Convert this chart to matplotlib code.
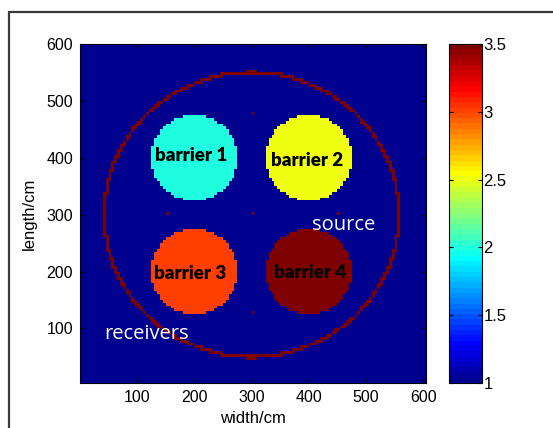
import matplotlib
matplotlib.use('Agg')
import matplotlib.pyplot as plt
import numpy as np
from matplotlib.colors import ListedColormap
from matplotlib.patches import Rectangle

# barriers: centre (cm), radius (cm), velocity value
barrier_x = [200, 400, 200, 400]
barrier_y = [400, 400, 200, 200]
barrier_r = [75, 75, 75, 75]
barrier_val = [2.0, 2.5, 3.0, 3.5]
barrier_names = ['barrier 1', 'barrier 2', 'barrier 3', 'barrier 4']
label_x = [195, 398, 193, 403]
label_y = [404, 396, 197, 199]

# receiver ring
ring_cx, ring_cy = 300, 300
ring_rx, ring_ry = 258, 250
ring_val = 3.5

# source points
src_x = [300, 150, 300, 450, 300]
src_y = [475, 300, 300, 300, 125]

background = 1.0
cell = 5
size = 605


def matlab_jet(m=64):
    # same construction as MATLAB's jet(m)
    n = int(np.ceil(m / 4))
    u = np.concatenate([np.arange(1, n + 1) / n, np.ones(n - 1), np.arange(n, 0, -1) / n])
    g = int(np.ceil(n / 2)) - (m % 4 == 1) + np.arange(1, len(u) + 1)
    r = g + n
    b = g - n
    J = np.zeros((m, 3))
    J[r[r <= m] - 1, 0] = u[r <= m]
    J[g[g <= m] - 1, 1] = u[g <= m]
    J[b[b >= 1] - 1, 2] = u[b >= 1]
    return ListedColormap(J)


# build the grid
centres = np.arange(cell / 2, size, cell)
X, Y = np.meshgrid(centres, centres)
field = np.full(X.shape, background)
for bx, by, br, bv in zip(barrier_x, barrier_y, barrier_r, barrier_val):
    field[(X - bx) ** 2 + (Y - by) ** 2 <= br ** 2] = bv
d = np.sqrt(((X - ring_cx) / ring_rx) ** 2 + ((Y - ring_cy) / ring_ry) ** 2)
field[np.abs(d - 1) * 254 < 2.8] = ring_val
for sx, sy in zip(src_x, src_y):
    field[int(sy // cell), int(sx // cell)] = ring_val

plt.rcParams['font.family'] = ['Liberation Sans', 'DejaVu Sans']
fig = plt.figure(figsize=(5.53, 4.28), dpi=100)
ax = fig.add_axes([80 / 553, 1 - 383 / 428, 346 / 553, 339 / 428])
cax = fig.add_axes([449 / 553, 1 - 383 / 428, 33 / 553, 339 / 428])

im = ax.imshow(field, origin='lower', extent=(0, size, 0, size), cmap=matlab_jet(64),
               vmin=1, vmax=3.5, interpolation='nearest', aspect='auto')
ax.set_xlim(0, size)
ax.set_ylim(4, 600)
ax.set_xticks([100, 200, 300, 400, 500, 600])
ax.set_yticks([100, 200, 300, 400, 500, 600])
ax.tick_params(direction='in', top=True, right=True, labelsize=11.5, length=3, pad=5)
ax.set_xlabel('width/cm', fontsize=12, labelpad=4.5)
ax.set_ylabel('length/cm', fontsize=12, labelpad=7)

for name, tx, ty in zip(barrier_names, label_x, label_y):
    ax.text(tx, ty, name, ha='center', va='center', fontsize=13.5,
            fontweight='heavy', family='Lato', color='black')
ax.text(461, 281, 'source', ha='center', va='center', fontsize=14.5,
        family='Open Sans', color='white')
ax.text(42, 90, 'receivers', ha='left', va='center', fontsize=14.5,
        family='Open Sans', color='white')

cb = fig.colorbar(im, cax=cax, ticks=[1, 1.5, 2, 2.5, 3, 3.5])
cb.ax.set_yticklabels(['1', '1.5', '2', '2.5', '3', '3.5'])
cb.ax.tick_params(direction='in', left=True, right=True, labelsize=12,
                  length=3, pad=1)

# figure frame
fig.add_artist(Rectangle((9 / 553, -0.1), 1.2, 1 - 12 / 428 + 0.1,
                         transform=fig.transFigure, fill=False,
                         edgecolor='#3a3a3a', linewidth=1.6))

fig.savefig('out.png', dpi=100)
